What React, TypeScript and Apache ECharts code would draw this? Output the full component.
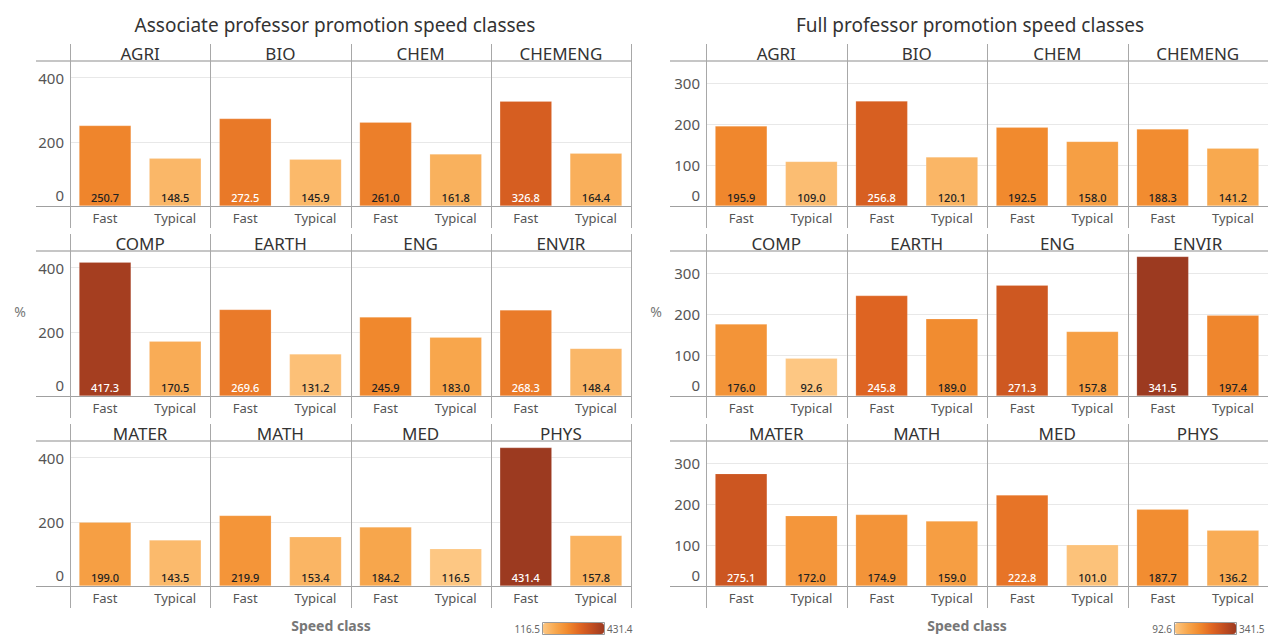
import React, { useEffect, useRef } from 'react';
import * as echarts from 'echarts';

const departments = ['AGRI', 'BIO', 'CHEM', 'CHEMENG', 'COMP', 'EARTH', 'ENG', 'ENVIR', 'MATER', 'MATH', 'MED', 'PHYS'];
const speedClasses = ['Fast', 'Typical'];
const assocFast = [250.7, 272.5, 261.0, 326.8, 417.3, 269.6, 245.9, 268.3, 199.0, 219.9, 184.2, 431.4];
const assocTypical = [148.5, 145.9, 161.8, 164.4, 170.5, 131.2, 183.0, 148.4, 143.5, 153.4, 116.5, 157.8];
const fullFast = [195.9, 256.8, 192.5, 188.3, 176.0, 245.8, 271.3, 341.5, 275.1, 174.9, 222.8, 187.7];
const fullTypical = [109.0, 120.1, 158.0, 141.2, 92.6, 189.0, 157.8, 197.4, 172.0, 159.0, 101.0, 136.2];
const assocTicks = [0, 200, 400];
const fullTicks = [0, 100, 200, 300];
const assocTitle = 'Associate professor promotion speed classes';
const fullTitle = 'Full professor promotion speed classes';
const yAxisTitle = '%';
const xAxisTitle = 'Speed class';
const palette = ['#fdc783', '#f8a84e', '#f18a2e', '#e06622', '#c24e20', '#9c3a20'];

const FONT = 'Noto Sans';

export default function App() {
  const ref = useRef<HTMLDivElement>(null);
  useEffect(() => {
    document.body.style.margin = '0';
    const chart = echarts.init(ref.current!, null, { renderer: 'svg' });
    const defs = [
      { title: assocTitle, fast: assocFast, typical: assocTypical, ticks: assocTicks, yMax: 452, interval: 200, x0: 70, colW: 140.25, lineX0: 36, titleX: 335, pctX: 20, classX: 331, legendX: 543 },
      { title: fullTitle, fast: fullFast, typical: fullTypical, ticks: fullTicks, yMax: 355, interval: 100, x0: 706, colW: 140.5, lineX0: 670, titleX: 970, pctX: 656, classX: 967, legendX: 1175 },
    ];
    const rowBase = [206, 396, 586];
    const panelH = 145;
    const legendW = 61;
    const legendH = 11;
    const legendTop = 623;
    const grids: any[] = [];
    const xAxes: any[] = [];
    const yAxes: any[] = [];
    const series: any[] = [];
    const visualMaps: any[] = [];
    const graphics: any[] = [];

    defs.forEach((c) => {
      const all = c.fast.concat(c.typical);
      const vmin = Math.min(...all);
      const vmax = Math.max(...all);
      const seriesIdx: number[] = [];
      departments.forEach((dep, d) => {
        const r = Math.floor(d / 4);
        const k = d % 4;
        const g = grids.length;
        grids.push({ left: c.x0 + k * c.colW, top: rowBase[r] - panelH, width: c.colW, height: panelH, containLabel: false });
        xAxes.push({
          type: 'category', gridIndex: g, data: speedClasses,
          axisLine: { show: false }, axisTick: { show: false },
          axisLabel: { fontSize: 13, color: '#555', margin: 5, fontFamily: FONT },
        });
        yAxes.push({
          type: 'value', gridIndex: g, min: 0, max: c.yMax, interval: c.interval,
          axisLine: { show: false }, axisTick: { show: false },
          splitLine: { show: true, lineStyle: { color: '#e8e8e8', width: 1 } },
          axisLabel: {
            show: k === 0, margin: 6,
            formatter: (v: number) => (c.ticks.includes(v) ? (v === 0 ? '{z|0}' : '{n|' + v + '}') : ''),
            rich: {
              n: { fontSize: 15, color: '#555', fontFamily: FONT },
              z: { fontSize: 15, color: '#555', fontFamily: FONT, padding: [0, 0, 22, 0] },
            },
          },
        });
        const vals = [c.fast[d], c.typical[d]];
        seriesIdx.push(series.length);
        series.push({
          type: 'bar', xAxisIndex: g, yAxisIndex: g, barWidth: 52,
          data: vals.map((v) => ({
            value: v,
            label: { color: (v - vmin) / (vmax - vmin) > 0.47 ? '#ffffff' : '#222222' },
          })),
          label: {
            show: true, position: 'insideBottom', distance: 3, fontSize: 11, fontWeight: 500, fontFamily: FONT,
            formatter: (p: any) => Number(p.value).toFixed(1),
          },
          itemStyle: { borderColor: 'rgba(255,255,255,0.35)', borderWidth: 0.5 },
        });
        graphics.push({
          type: 'text', x: c.x0 + (k + 0.5) * c.colW, y: rowBase[r] - 153,
          style: { text: dep, fontSize: 17, fill: '#333', fontFamily: FONT, textAlign: 'center', textVerticalAlign: 'middle' },
          z: 10,
        });
      });
      visualMaps.push({
        type: 'continuous', min: vmin, max: vmax, seriesIndex: seriesIdx,
        inRange: { color: palette }, orient: 'horizontal', left: c.legendX, top: legendTop,
        itemWidth: legendH, itemHeight: legendW, text: null, showLabel: false, padding: 0,
        calculable: false, hoverLink: false,
      });
      graphics.push({ type: 'rect', shape: { x: c.legendX - 0.5, y: legendTop - 0.5, width: legendW + 1, height: legendH + 1 }, style: { fill: 'none', stroke: '#9a9a9a', lineWidth: 1 }, z: 20 });
      graphics.push({ type: 'text', x: c.legendX - 3, y: legendTop + legendH / 2 + 0.5, style: { text: vmin.toFixed(1), fontSize: 10, fill: '#666', fontFamily: FONT, textAlign: 'right', textVerticalAlign: 'middle' }, z: 20 });
      graphics.push({ type: 'text', x: c.legendX + legendW + 3, y: legendTop + legendH / 2 + 0.5, style: { text: vmax.toFixed(1), fontSize: 10, fill: '#666', fontFamily: FONT, textAlign: 'left', textVerticalAlign: 'middle' }, z: 20 });

      const xEnd = c.x0 + 4 * c.colW;
      rowBase.forEach((B) => {
        graphics.push({ type: 'line', shape: { x1: c.lineX0, y1: B - panelH, x2: xEnd, y2: B - panelH }, style: { stroke: '#c6c6c6', lineWidth: 2 }, z: 10 });
        graphics.push({ type: 'line', shape: { x1: c.lineX0, y1: B + 0.5, x2: xEnd, y2: B + 0.5 }, style: { stroke: '#a0a0a0', lineWidth: 1 }, z: 10 });
        for (let k = 0; k <= 4; k++) {
          const x = Math.round(c.x0 + k * c.colW) + 0.5;
          graphics.push({ type: 'line', shape: { x1: x, y1: B - 162, x2: x, y2: B + 22 }, style: { stroke: '#a8a8a8', lineWidth: 1 }, z: 10 });
        }
      });
      graphics.push({ type: 'text', x: c.titleX, y: 25, style: { text: c.title, fontSize: 19, fill: '#333', fontFamily: FONT, textAlign: 'center', textVerticalAlign: 'middle' }, z: 10 });
      graphics.push({ type: 'text', x: c.pctX, y: 311, style: { text: yAxisTitle, fontSize: 14, fill: '#777', fontFamily: FONT, textAlign: 'center', textVerticalAlign: 'middle' }, z: 10 });
      graphics.push({ type: 'text', x: c.classX, y: 625, style: { text: xAxisTitle, fontSize: 14, fontWeight: 'bold', fill: '#777', fontFamily: FONT, textAlign: 'center', textVerticalAlign: 'middle' }, z: 10 });
    });

    chart.setOption({
      animation: false,
      backgroundColor: '#ffffff',
      textStyle: { fontFamily: FONT },
      grid: grids,
      xAxis: xAxes,
      yAxis: yAxes,
      series,
      visualMap: visualMaps,
      graphic: graphics,
    });
    return () => chart.dispose();
  }, []);
  return <div ref={ref} style={{ width: 1268, height: 635 }} />;
}
